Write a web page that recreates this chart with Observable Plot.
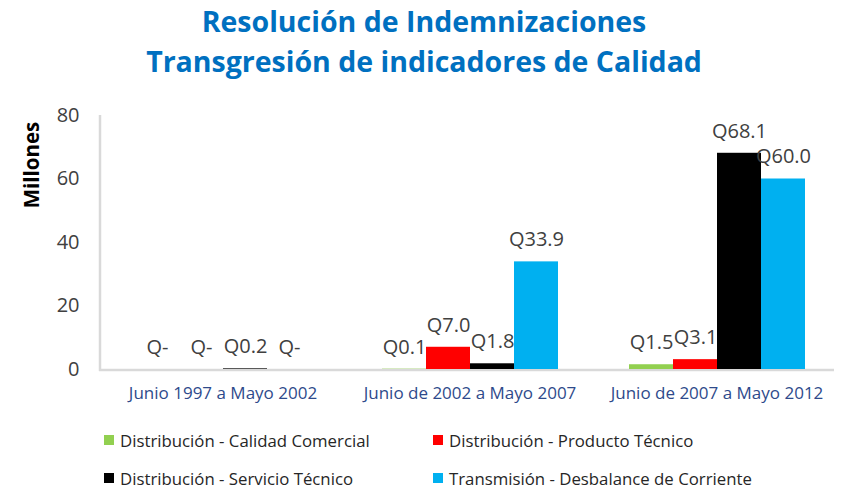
<!DOCTYPE html>
<html>
<head>
<meta charset="utf-8">
<script src="https://cdn.jsdelivr.net/npm/d3@7"></script>
<script src="https://cdn.jsdelivr.net/npm/@observablehq/plot@0.6"></script>
<style>
  html, body { margin: 0; padding: 0; background: #fff; }
  body { width: 842px; height: 491px; overflow: hidden; font-family: "Open Sans", sans-serif; }
  #title { height: 88px; text-align: center; color: #0070C0; font-weight: 700; font-size: 28.5px; line-height: 40px; padding-top: 1px; box-sizing: border-box; padding-left: 6px; }
  #legend { margin-top: 8px; padding-left: 104px; display: flex; flex-wrap: wrap; width: 760px; }
  .item { width: 329px; height: 38px; display: flex; align-items: center; font-size: 16.8px; color: #262626; }
  .sw { width: 10px; height: 10px; margin-right: 6px; flex: none; }
</style>
</head>
<body>
<div id="title">Resolución de Indemnizaciones<br>Transgresión de indicadores de Calidad</div>
<div id="chart"></div>
<div id="legend"></div>
<script>
const periods = ["Junio 1997 a Mayo 2002", "Junio de 2002 a Mayo 2007", "Junio de 2007 a Mayo 2012"];
const series = ["Distribución - Calidad Comercial", "Distribución - Producto Técnico", "Distribución - Servicio Técnico", "Transmisión - Desbalance de Corriente"];
const seriesColors = ["#92D050", "#FF0000", "#000000", "#00B0F0"];
const calidadComercial = [0, 0.1, 1.5];
const productoTecnico = [0, 7.0, 3.1];
const servicioTecnico = [0.2, 1.8, 68.1];
const desbalanceCorriente = [0, 33.9, 60.0];
const yTicks = [0, 20, 40, 60, 80];

const valuesBySeries = [calidadComercial, productoTecnico, servicioTecnico, desbalanceCorriente];
const data = [];
periods.forEach((p, i) => {
  series.forEach((s, j) => {
    data.push({period: p, series: s, value: valuesBySeries[j][i]});
  });
});

const plot = Plot.plot({
  width: 842,
  height: 325,
  marginLeft: 99,
  marginRight: 2,
  marginTop: 27,
  marginBottom: 44,
  style: {fontFamily: "Open Sans, sans-serif", background: "transparent"},
  fx: {domain: periods, paddingInner: 0.275, paddingOuter: 0.1375, label: null},
  x: {domain: series, axis: null, padding: 0},
  y: {domain: [0, 80], ticks: yTicks},
  color: {domain: series, range: seriesColors},
  marks: [
    Plot.axisFx({anchor: "bottom", tickSize: 0, tickPadding: 17, fontSize: 17, fill: "#2E4A8B", label: null}),
    Plot.axisY({ticks: yTicks, tickSize: 0, tickPadding: 54, label: null, fontSize: 20, fill: "#404040"}),
    Plot.barY(data, {fx: "period", x: "series", y: "value", fill: "series"}),
    Plot.text(data, {
      fx: "period", x: "series", y: "value",
      text: d => d.value === 0 ? "Q-" : "Q" + d.value.toFixed(1),
      dy: -22, fontSize: 20, fill: "#404040"
    })
  ]
});
document.getElementById("chart").appendChild(plot);

// axis lines (continuous across facets) using the plot's scales
const svg = d3.select(plot);
const ys = plot.scale("y");
const fxs = plot.scale("fx");
const y0 = ys.apply(0), yTop = ys.apply(80);
svg.insert("line", ":first-child")
  .attr("x1", fxs.range[0]).attr("x2", fxs.range[1] - 6)
  .attr("y1", y0 + 1).attr("y2", y0 + 1)
  .attr("stroke", "#D9D9D9").attr("stroke-width", 2.5);
svg.insert("line", ":first-child")
  .attr("x1", fxs.range[0] + 1).attr("x2", fxs.range[0] + 1)
  .attr("y1", yTop).attr("y2", y0 + 2)
  .attr("stroke", "#D9D9D9").attr("stroke-width", 2.5);
svg.append("text")
  .attr("transform", `translate(31, ${yTop + 50}) rotate(-90)`)
  .attr("text-anchor", "middle")
  .attr("dominant-baseline", "central")
  .attr("font-size", 20.5).attr("font-weight", 700).attr("fill", "#000")
  .text("Millones");

// legend
const legend = document.getElementById("legend");
series.forEach((s, i) => {
  const it = document.createElement("div");
  it.className = "item";
  const sw = document.createElement("span");
  sw.className = "sw";
  sw.style.background = seriesColors[i];
  const t = document.createElement("span");
  t.textContent = s;
  it.appendChild(sw); it.appendChild(t);
  legend.appendChild(it);
});
</script>
</body>
</html>
